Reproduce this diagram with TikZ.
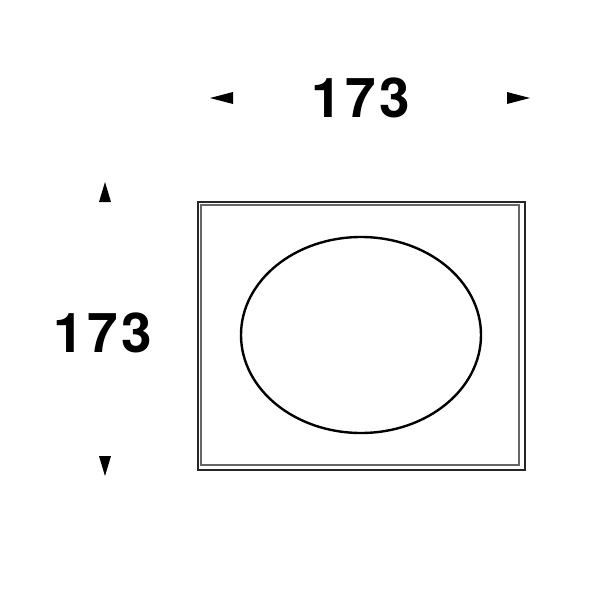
\documentclass[tikz,border=0pt]{standalone}
\usepackage{fontspec}
\setmainfont{TeX Gyre Heros}
\newfontfamily\dimfont[LetterSpace=6]{TeX Gyre Heros}

\begin{document}
\begin{tikzpicture}[x=0.25mm, y=-0.25mm,
    dimlabel/.style={font=\dimfont\fontsize{39}{39}\selectfont\bfseries, inner sep=0pt},
    dimtip/.style={fill=black}]
    \useasboundingbox (0,0) rectangle (600,600);

    % frame and opening
    \draw[black!60, line width=0.6mm] (201,205) rectangle (519,465);
    \draw[black!85, line width=0.6mm] (198,202) rectangle (525,470);
    \draw[black, line width=0.6mm] (361,335) ellipse [x radius=120, y radius=98];

    % labels
    \node[dimlabel] (wlabel) at (361,98) {173};
    \node[dimlabel] (hlabel) at (103,333) {173};

    % arrow tips
    \fill[dimtip] (210,98) -- (233,92) -- (233,104) -- cycle;
    \fill[dimtip] (530,98) -- (507,92) -- (507,104) -- cycle;
    \fill[dimtip] (105,182) -- (99,202) -- (111,202) -- cycle;
    \fill[dimtip] (105,476) -- (99,456) -- (111,456) -- cycle;
\end{tikzpicture}
\end{document}
